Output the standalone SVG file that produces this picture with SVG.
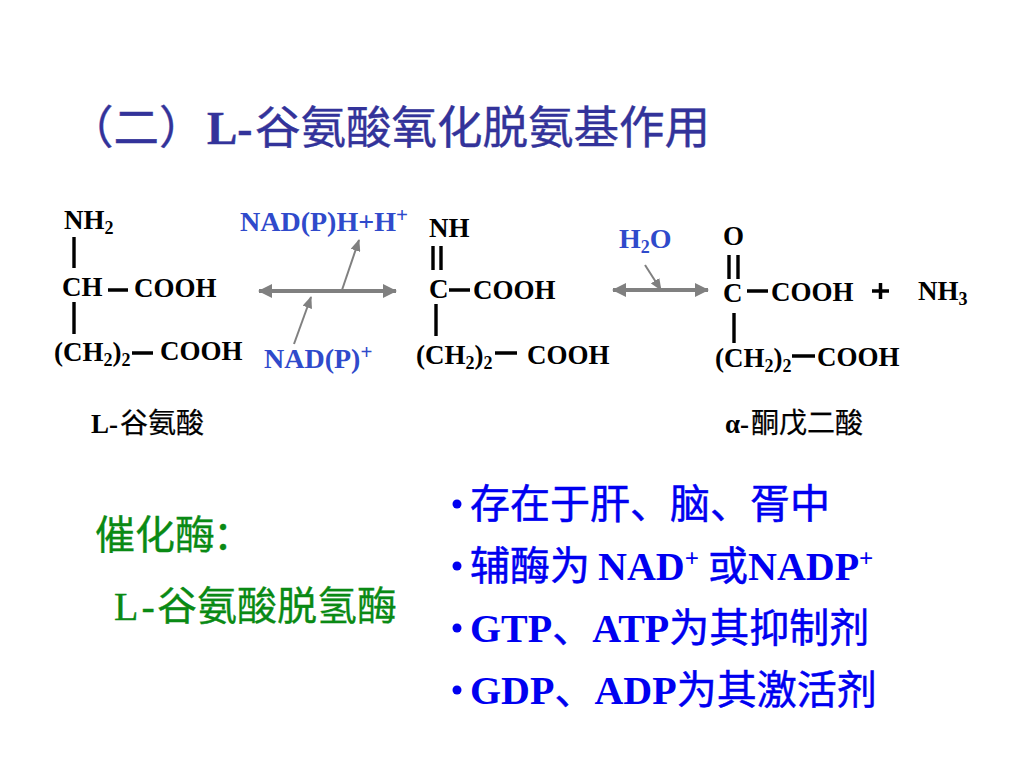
<svg xmlns="http://www.w3.org/2000/svg" width="1024" height="768" viewBox="0 0 1024 768">
<style>
text{font-family:"Liberation Serif","Noto Sans CJK SC",serif;white-space:pre}
.n{font-size:27px;font-weight:700;fill:#000}
.s{font-size:18px}
.b{font-size:28px;font-weight:700;fill:#2f4acb}
.sup{font-size:21px}
.r{font-weight:400}
.cn{font-size:28px;font-weight:400;stroke:#000;stroke-width:.25}
.t{font-size:45.500px;font-weight:400;fill:#33339a;stroke:#33339a;stroke-width:.4}
.tl{font-weight:700}
.l{font-size:40px;font-weight:700;fill:#0000f0}
.lc{font-weight:400;stroke:#0000f0;stroke-width:.5}
.lsup{font-size:25px}
.g{font-size:40px;font-weight:400;fill:#0a8a14;stroke:#0a8a14;stroke-width:.3}
.bond{stroke:#000;stroke-width:3.400;fill:none}
.arr{stroke:#808080;stroke-width:4;fill:none}
.thin{stroke:#808080;stroke-width:2;fill:none}
</style>
<defs>
<marker id="ah" markerUnits="userSpaceOnUse" markerWidth="14" markerHeight="14" refX="13" refY="7" orient="auto-start-reverse"><path d="M0 0L14 7L0 14Z" fill="#808080"/></marker>
<marker id="as" markerUnits="userSpaceOnUse" markerWidth="12" markerHeight="10" refX="11" refY="5" orient="auto"><path d="M0 0L12 5L0 10Z" fill="#808080"/></marker>
</defs>
<rect width="1024" height="768" fill="#fff"/>
<g id="title"><text class="t" x="68" y="144">（二）<tspan class="tl" x="207">L-</tspan><tspan x="255">谷氨酸氧化脱氨基作用</tspan></text></g>
<g id="connectors">
<path class="arr" d="M259 291H396" marker-start="url(#ah)" marker-end="url(#ah)"/>
<path class="thin" d="M342 290L359 240" marker-end="url(#as)"/>
<path class="thin" d="M294 344L311 297" marker-end="url(#as)"/>
<path class="arr" d="M613 290H708" marker-start="url(#ah)" marker-end="url(#ah)"/>
<path class="thin" d="M645 265L661 290" marker-end="url(#as)"/>
</g>
<g id="glutamate">
<text class="n" x="64" y="229">NH<tspan class="s" dy="5">2</tspan></text>
<path class="bond" d="M74 237V268M74 302V334M108 290H128M132 353H153"/>
<text class="n" x="62" y="296">CH</text>
<text class="n" x="134" y="297">COOH</text>
<text class="n" x="54" y="361">(CH<tspan class="s" dy="5">2</tspan><tspan dy="-5">)</tspan><tspan class="s" dy="5">2</tspan></text>
<text class="n" x="160" y="360">COOH</text>
<text class="n" x="91" y="433">L-<tspan class="cn" x="120">谷氨酸</tspan></text>
</g>
<g id="cofactors">
<text class="b" x="240" y="231">NAD(P)H+H<tspan class="sup" dy="-9">+</tspan></text>
<text class="b" x="264" y="368">NAD(P)<tspan class="sup" dy="-9">+</tspan></text>
<text class="b" x="619" y="248">H<tspan class="s" dy="5">2</tspan><tspan dy="-5">O</tspan></text>
</g>
<g id="imino">
<text class="n" x="429" y="237">NH</text>
<path class="bond" d="M433 246V270M441 246V270M449 290H470M436 304V336M495 353H517"/>
<text class="n" x="429" y="298">C</text>
<text class="n" x="473" y="299">COOH</text>
<text class="n" x="416" y="364">(CH<tspan class="s" dy="5">2</tspan><tspan dy="-5">)</tspan><tspan class="s" dy="5">2</tspan></text>
<text class="n" x="527" y="364">COOH</text>
</g>
<g id="ketoglutarate">
<text class="n" x="723" y="245">O</text>
<path class="bond" d="M729 255V279M738 255V279M747 291H768M734 313V343M792 356H815"/>
<text class="n" x="723" y="302">C</text>
<text class="n" x="771" y="301">COOH</text>
<text class="n" x="715" y="367">(CH<tspan class="s" dy="5">2</tspan><tspan dy="-5">)</tspan><tspan class="s" dy="5">2</tspan></text>
<text class="n" x="817" y="366">COOH</text>
<text class="n" x="725" y="433">α-<tspan class="cn" x="751">酮戊二酸</tspan></text>
</g>
<g id="plus"><path d="M872 291H889M880.500 283V299" stroke="#000" stroke-width="3.500" fill="none"/></g>
<g id="ammonia"><text class="n" x="918" y="300">NH<tspan class="s" dy="5">3</tspan></text></g>
<g id="enzyme">
<text class="g" x="95" y="549">催化酶<tspan dx="-2">：</tspan></text>
<text class="g" x="114" y="620"><tspan letter-spacing="3">L-</tspan><tspan x="157">谷氨酸脱氢酶</tspan></text>
</g>
<g id="notes">
<circle cx="457" cy="504" r="4.500" fill="#0000f0"/><text class="l" x="470" y="518"><tspan class="lc">存在于肝、脑、胥中</tspan></text>
<circle cx="457" cy="566" r="4.500" fill="#0000f0"/><text class="l" x="470" y="580"><tspan class="lc">辅酶为</tspan><tspan x="598">NAD</tspan><tspan class="lsup" dy="-13">+</tspan><tspan class="lc" x="708" dy="13">或</tspan><tspan>NADP</tspan><tspan class="lsup" dy="-13">+</tspan></text>
<circle cx="457" cy="628" r="4.500" fill="#0000f0"/><text class="l" x="470" y="642">GTP<tspan class="lc">、</tspan>ATP<tspan class="lc">为其抑制剂</tspan></text>
<circle cx="457" cy="690" r="4.500" fill="#0000f0"/><text class="l" x="470" y="704">GDP<tspan class="lc">、</tspan>ADP<tspan class="lc">为其激活剂</tspan></text>
</g>
</svg>
